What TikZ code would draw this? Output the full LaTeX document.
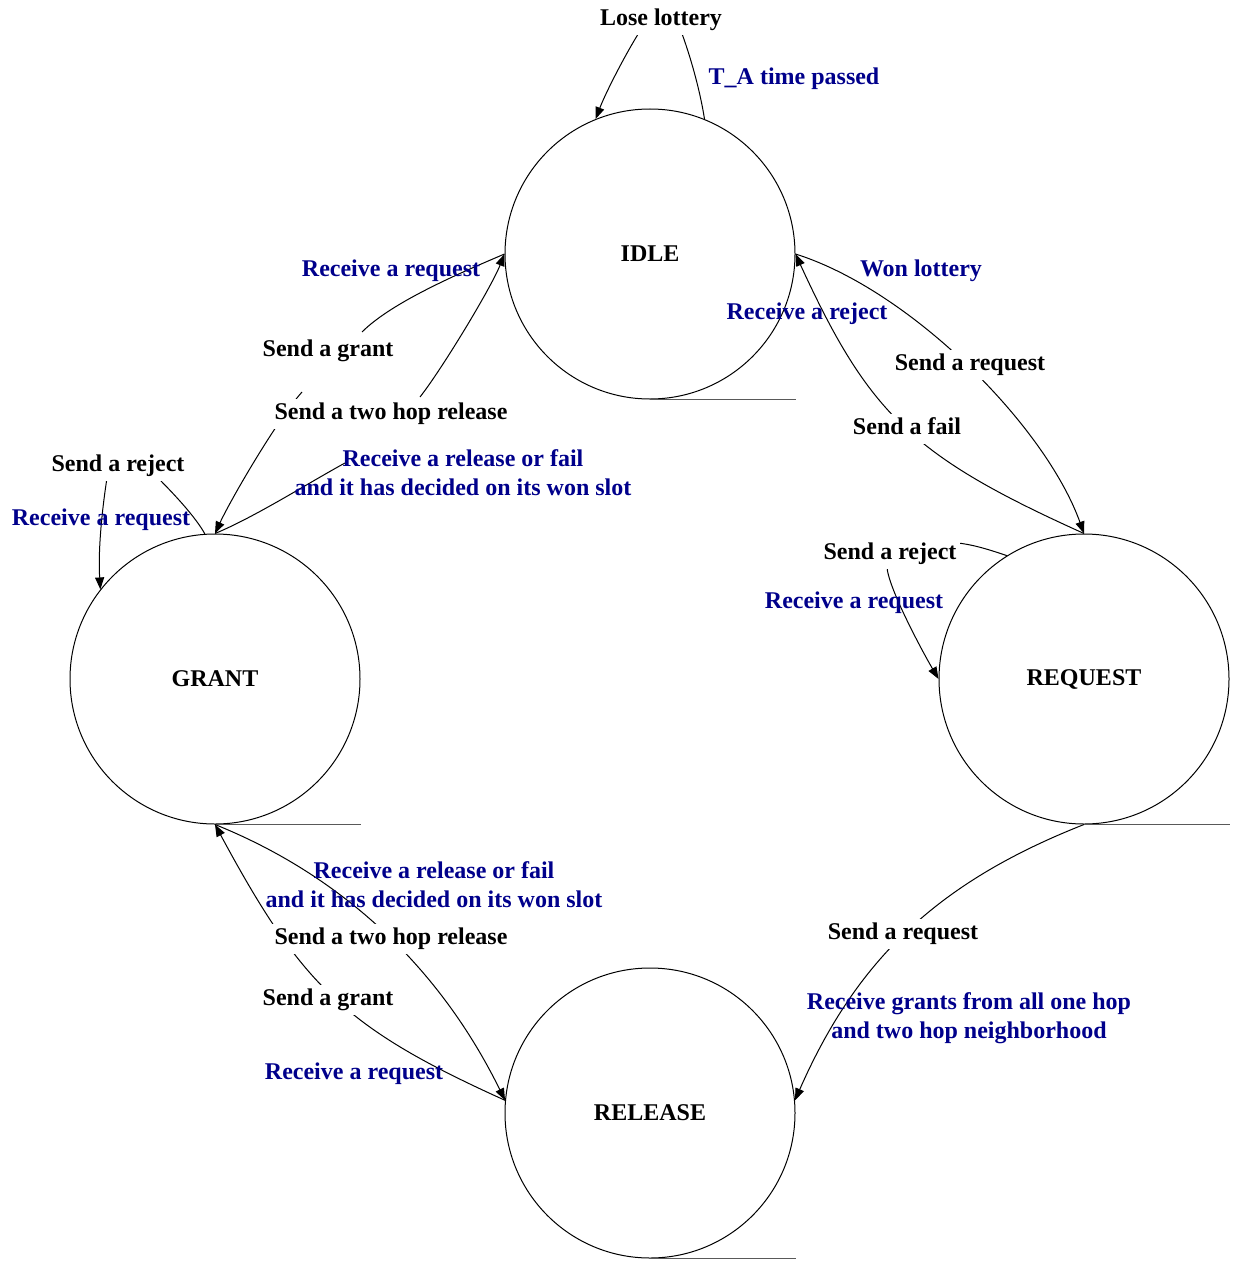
\documentclass[tikz,border=0pt]{standalone}
\usepackage{fontspec}
\setmainfont{Liberation Serif}
\usetikzlibrary{arrows.meta}
\definecolor{trigblue}{RGB}{0,0,139}
\begin{document}
\begin{tikzpicture}[x=0.5pt,y=-0.5pt,
  every node/.style={font=\fontsize{12}{14.5}\selectfont\bfseries},
  state/.style={circle,draw,line width=0.5pt,minimum size=145pt,inner sep=0pt},
  stateline/.style={line width=0.6pt,draw=black!65},
  conn/.style={line width=0.5pt,-{Triangle[length=6pt,width=4.5pt]}},
  act/.style={fill=white,inner xsep=2pt,inner ysep=1.75pt,text height=8.5pt,text depth=3pt,yshift=-1.5pt},
  trig/.style={text=trigblue,inner sep=0pt,align=center,text height=8.5pt,text depth=3pt,yshift=-1.5pt}]
\useasboundingbox (0,0) rectangle (1233,1279);

% states
\node[state] (idle)    at (650,254)  {IDLE};
\node[state] (grant)   at (215,679)  {GRANT};
\node[state] (request) at (1084,679) {REQUEST};
\node[state] (release) at (650,1113) {RELEASE};

\foreach \s in {idle,grant,request,release}
  \draw[stateline] (\s.south) -- (\s.south -| \s.east);

% transitions
\draw[conn] (idle.68) .. controls (700,90) and (690,55) .. (681,31)
            (640,31) .. controls (625,55) and (606,92) .. (idle.112);
\draw[conn] (idle.east) .. controls (910,290) and (1045,425) .. (request.north);
\draw[conn] (request.north) .. controls (912,456) and (869,414) .. (idle.east);
\draw[conn] (idle.west) .. controls (460,273) and (392,302) .. (362,332)
            (302,392) .. controls (277,420) and (231,499) .. (grant.north);
\draw[conn] (grant.north) .. controls (255,517) and (310,482) .. (345,463)
            (420,397) .. controls (442,369) and (491,288) .. (idle.west);
\draw[conn] (grant.94) .. controls (196,518) and (177,497) .. (158,478)
            (107,478) .. controls (102,510) and (98,550) .. (grant.142);
\draw[conn] (request.122) .. controls (990,550) and (975,545) .. (958,543)
            (887,567) .. controls (888,587) and (921,649) .. (request.west);
\draw[conn] (request.south) .. controls (938,882) and (857,959) .. (release.5);
\draw[conn] (release.175) .. controls (345,1028) and (302,986) .. (grant.south);
\draw[conn] (grant.south) .. controls (343,876) and (440,968) .. (release.175);

% actions
\node[act] (lose)  at (661,17)  {Lose lottery};
\node[act] (sreq1) at (970,362) {Send a request};
\node[act] (sfail) at (907,426) {Send a fail};
\node[act] (sgr1)  at (328,348) {Send a grant};
\node[act] (s2h1)  at (391,411) {Send a two hop release};
\node[act] (srej1) at (118,463) {Send a reject};
\node[act] (srej2) at (890,551) {Send a reject};
\node[act] (s2h2)  at (391,936) {Send a two hop release};
\node[act] (sgr2)  at (328,997) {Send a grant};
\node[act] (sreq2) at (903,931) {Send a request};

% triggers
\node[trig] (ta)    at (794,76)   {T\_A time passed};
\node[trig] (won)   at (921,268)  {Won lottery};
\node[trig] (rrej)  at (807,311)  {Receive a reject};
\node[trig] (rreq1) at (391,268)  {Receive a request};
\node[trig] (rrel1) at (463,487)  {Receive a release or fail\\and it has decided on its won slot};
\node[trig] (rreq2) at (101,517)  {Receive a request};
\node[trig] (rreq3) at (854,600)  {Receive a request};
\node[trig] (rrel2) at (434,899)  {Receive a release or fail\\and it has decided on its won slot};
\node[trig] (rreq4) at (354,1071) {Receive a request};
\node[trig] (rgr)   at (969,1030) {Receive grants from all one hop\\and two hop neighborhood};
\end{tikzpicture}
\end{document}
